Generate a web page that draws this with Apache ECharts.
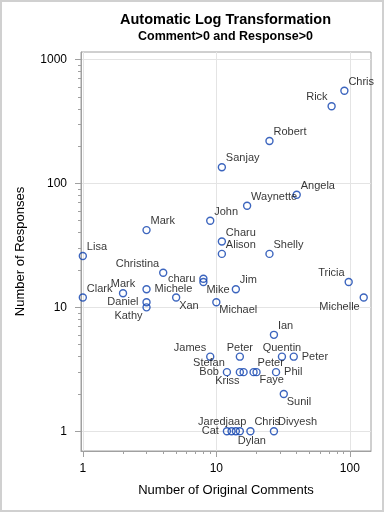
<!DOCTYPE html>
<html><head><meta charset="utf-8">
<script src="https://cdn.jsdelivr.net/npm/echarts@6/dist/echarts.min.js"></script>
<style>html,body{margin:0;padding:0;background:#fff}#c{width:384px;height:512px}</style>
</head><body><div id="c"></div>
<script>
const titleText = 'Automatic Log Transformation';
const subtitleText = 'Comment>0 and Response>0';
const xName = 'Number of Original Comments';
const yName = 'Number of Responses';

const names = ['Chris','Rick','Robert','Sanjay','Angela','Waynette','John','Mark','Charu','Alison','Shelly','Lisa','Christina','charu','Mike','Jim','Mark','Clark','Michele','Daniel','Kathy','Xan','Michael','Tricia','Michelle','Ian','James','Peter','Quentin','Peter','Bob','Stefan','Kriss','Peter','Faye','Phil','Sunil','Cat','Jared','jaap','Dylan','Chris','Divyesh'];
const comments = [91,73,25,11,40,17,9,3,11,11,25,1,4,8,8,14,2,1,3,3,3,5,10,98,127,27,9,15,31,38,12,15,16,19,20,28,32,12,13,14,15,18,27];
const responses = [560,420,220,135,81,66,50,42,34,27,27,26,19,17,16,14,13,12,14,11,10,12,11,16,12,6,4,4,4,4,3,3,3,3,3,3,2,1,1,1,1,1,1];
const placement = ['tr','tl','tr','tr','tr','tr','tr','tr','tr','tr','tr','tr','tl','l','br','tr','t','tr','r','l','bl','br','br','tl','bl','tr','tl','t','t','r','l','tlw','bl','tr','br','r','br','l','tlm','t','bs','tr','tr'];

const xMajor = [1,10,100];
const xMinor = [2,3,4,5,6,7,8,9,20,30,40,50,60,70,80,90];
const yMajor = [1,10,100,1000];
const yMinor = [2,3,4,5,6,7,8,9,20,30,40,50,60,70,80,90,200,300,400,500,600,700,800,900];
const xRange = [0.969, 144];
const yRange = [0.693, 1150];

const placeStyle = {
  tr: {align:'left', offset:[4,-9]},
  tl: {align:'right', offset:[-4,-9]},
  tlm: {align:'right', offset:[-6,-9]},
  tlw: {align:'right', offset:[-15,-9]},
  t: {align:'center', offset:[0,-9]},
  r: {align:'left', offset:[8,0]},
  l: {align:'right', offset:[-8,0]},
  br: {align:'left', offset:[3,8]},
  bl: {align:'right', offset:[-4,9]},
  b: {align:'center', offset:[0,10]},
  bs: {align:'center', offset:[12,10]}
};

const FONT = '"Liberation Sans", Arial, Helvetica, sans-serif';
const BLUE = '#0b3fae';
const AXIS = '#a0a0a0';

const data = names.map((n, i) => ({
  name: n,
  value: [comments[i], responses[i]],
  label: Object.assign({position: 'inside', verticalAlign: 'middle'}, placeStyle[placement[i]])
}));

function mainAxis(range, major, gapName, name, isY) {
  return {
    type: 'log', logBase: 10, min: range[0], max: range[1],
    position: isY ? 'left' : 'bottom',
    name: name, nameLocation: 'middle', nameGap: gapName,
    nameTextStyle: {fontFamily: FONT, fontSize: 13, color: '#000'},
    axisLine: {show: true, lineStyle: {color: AXIS, width: 1}},
    axisTick: {show: true, length: 6, lineStyle: {color: AXIS}, customValues: major},
    axisLabel: {show: true, customValues: major, margin: isY ? 14 : 12, fontFamily: FONT, fontSize: 12, color: '#000',
      formatter: v => String(Math.round(v))},
    splitLine: {show: true, lineStyle: {color: '#e4e4e4', width: 1}},
    minorTick: {show: false}
  };
}
function minorAxis(range, minor, isY) {
  return {
    type: 'log', logBase: 10, min: range[0], max: range[1],
    position: isY ? 'left' : 'bottom',
    axisLine: {show: false},
    axisTick: {show: true, length: 3, lineStyle: {color: AXIS}, customValues: minor},
    axisLabel: {show: false},
    splitLine: {show: false}
  };
}

const chart = echarts.init(document.getElementById('c'), null, {renderer: 'canvas'});
chart.setOption({
  animation: false,
  backgroundColor: '#fff',
  grid: {left: 81, right: 13, top: 52, bottom: 61, show: true, borderColor: AXIS, borderWidth: 1, backgroundColor: 'transparent'},
  graphic: [
    {type: 'rect', shape: {x: 1, y: 1, width: 382, height: 510}, style: {fill: 'none', stroke: '#d0d0d0', lineWidth: 2}, silent: true},
    {type: 'text', x: 225.5, y: 20, style: {text: titleText, align: 'center', verticalAlign: 'middle', font: 'bold 14.5px ' + FONT, fill: '#000'}},
    {type: 'text', x: 225.5, y: 37, style: {text: subtitleText, align: 'center', verticalAlign: 'middle', font: 'bold 12.5px ' + FONT, fill: '#000'}}
  ],
  xAxis: [mainAxis(xRange, xMajor, 33, xName, false), minorAxis(xRange, xMinor, false)],
  yAxis: [mainAxis(yRange, yMajor, 54, yName, true), minorAxis(yRange, yMinor, true)],
  series: [{
    type: 'scatter',
    xAxisIndex: 0, yAxisIndex: 0,
    symbol: 'circle', symbolSize: 7,
    itemStyle: {color: 'rgba(0,0,0,0)', borderColor: BLUE, borderWidth: 1.4},
    label: {show: true, formatter: '{b}', fontFamily: FONT, fontSize: 11, color: '#000'},
    emphasis: {disabled: true},
    data: data
  }]
});
</script></body></html>
